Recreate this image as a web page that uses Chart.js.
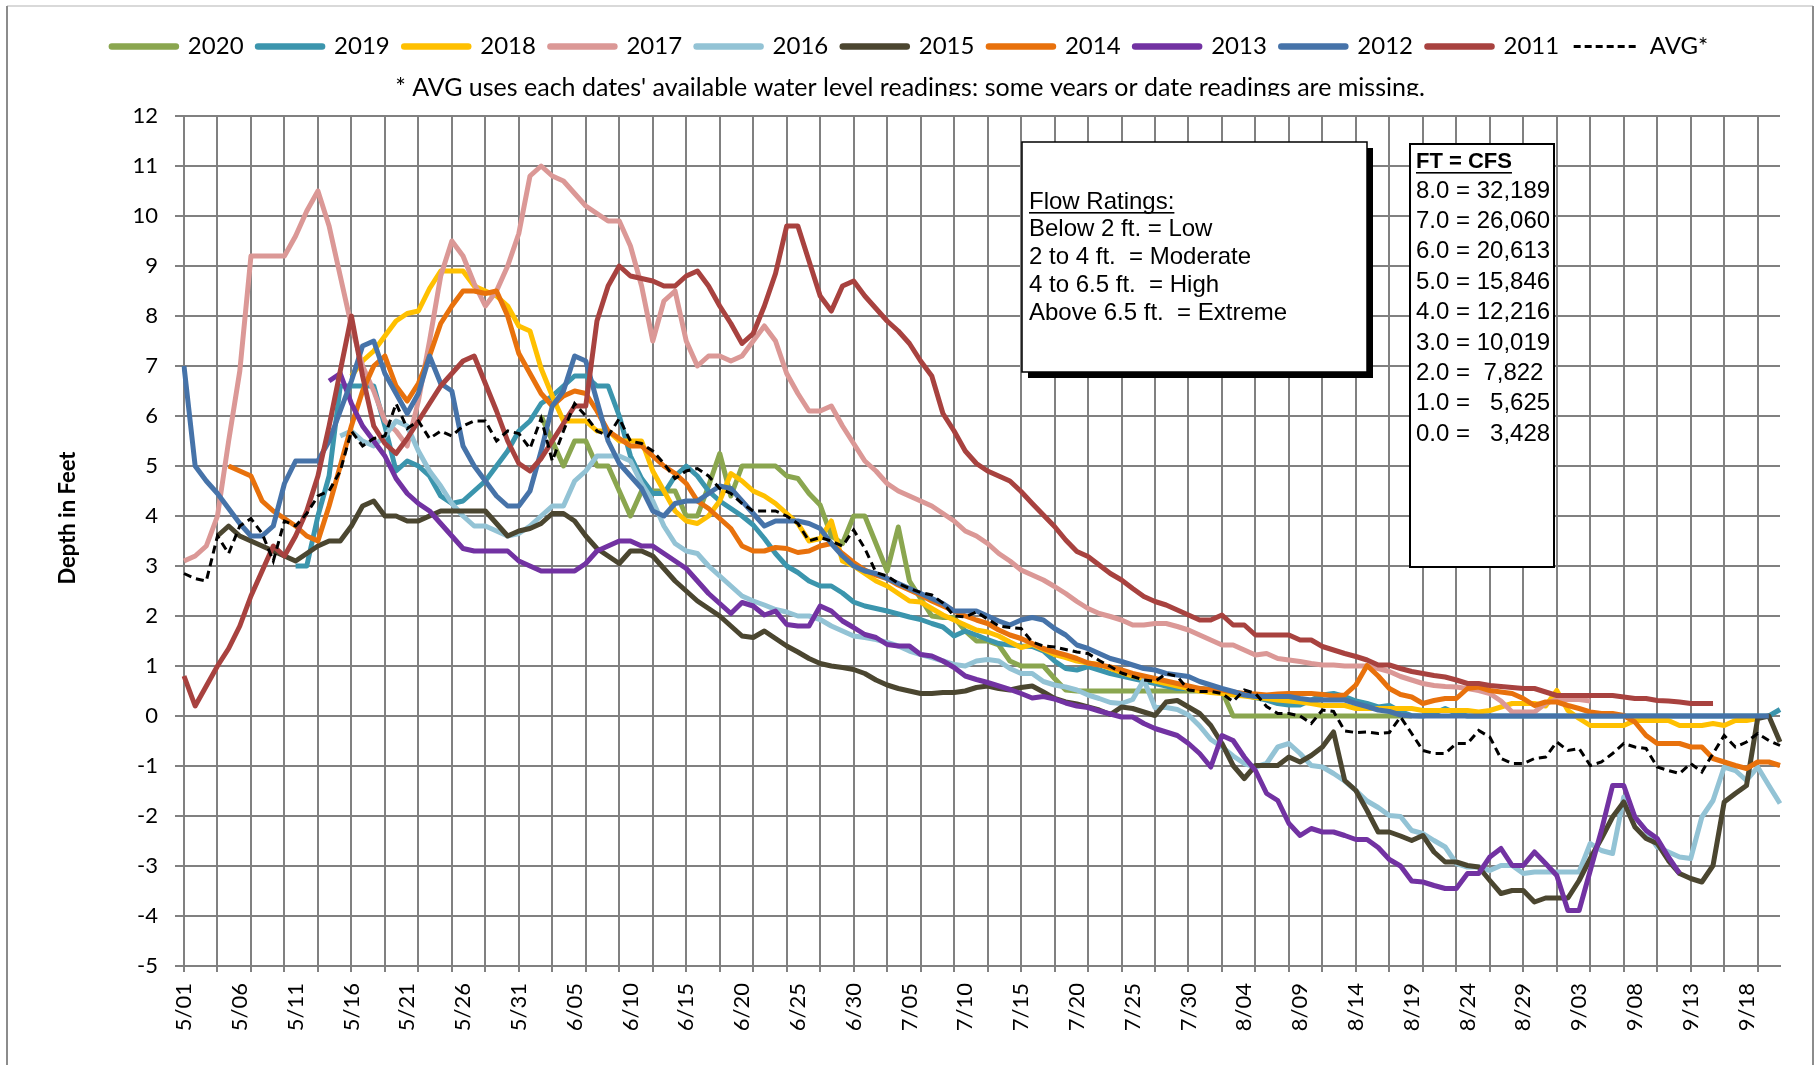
<!DOCTYPE html>
<html>
<head>
<meta charset="utf-8">
<title>Depth in Feet, May - September</title>
<script src="https://cdn.jsdelivr.net/npm/chart.js@4.4.1/dist/chart.umd.min.js"></script>
<style>
  html, body { margin: 0; padding: 0; background: #fff; }
  canvas { display: block; }
</style>
</head>
<body>
<canvas id="depthChart" width="1818" height="1065"></canvas>
<script>
// one reading per day, 5/01 .. 9/21
var days = [].concat(
  '5/01 5/02 5/03 5/04 5/05 5/06 5/07 5/08 5/09 5/10 5/11 5/12 5/13 5/14 5/15 5/16 5/17 5/18 5/19 5/20 5/21 5/22 5/23 5/24 5/25 5/26 5/27 5/28 5/29 5/30 5/31'.split(' '),
  '6/01 6/02 6/03 6/04 6/05 6/06 6/07 6/08 6/09 6/10 6/11 6/12 6/13 6/14 6/15 6/16 6/17 6/18 6/19 6/20 6/21 6/22 6/23 6/24 6/25 6/26 6/27 6/28 6/29 6/30'.split(' '),
  '7/01 7/02 7/03 7/04 7/05 7/06 7/07 7/08 7/09 7/10 7/11 7/12 7/13 7/14 7/15 7/16 7/17 7/18 7/19 7/20 7/21 7/22 7/23 7/24 7/25 7/26 7/27 7/28 7/29 7/30 7/31'.split(' '),
  '8/01 8/02 8/03 8/04 8/05 8/06 8/07 8/08 8/09 8/10 8/11 8/12 8/13 8/14 8/15 8/16 8/17 8/18 8/19 8/20 8/21 8/22 8/23 8/24 8/25 8/26 8/27 8/28 8/29 8/30 8/31'.split(' '),
  '9/01 9/02 9/03 9/04 9/05 9/06 9/07 9/08 9/09 9/10 9/11 9/12 9/13 9/14 9/15 9/16 9/17 9/18 9/19 9/20 9/21'.split(' ')
);

var yTicks = [-5, 12];

// each year starts at the day index given in its start value
var start2020 = 32;
var y2020 = [
  6.0, 5.5, 5.0, 5.5, 5.5, 5.0, 5.0, 4.5,
  4.0, 4.5, 4.5, 4.5, 4.5, 4.0, 4.0, 4.6, 5.25, 4.4,
  5.0, 5.0, 5.0, 5.0, 4.8, 4.75, 4.45, 4.22, 3.6, 3.45,
  4.0, 4.0, 3.45, 2.9, 3.78, 2.7, 2.35, 2.0, 1.97, 1.97,
  1.7, 1.5, 1.5, 1.42, 1.1, 1.0, 1.0, 1.0, 0.75, 0.52,
  0.5, 0.5, 0.5, 0.5, 0.5, 0.5, 0.5, 0.5, 0.5, 0.5,
  0.5, 0.5, 0.5, 0.5, 0, 0, 0, 0, 0, 0,
  0, 0, 0, 0, 0, 0, 0, 0, 0, 0, 0
];

var start2019 = 10;
var y2019 = [
  3.0, 3.0, 4.0, 4.8, 6.6, 6.6, 6.6, 6.6, 5.8, 4.9,
  5.1, 5.0, 4.8, 4.4, 4.25, 4.3, 4.5, 4.7, 5.0, 5.3,
  5.7, 5.9, 6.25, 6.4, 6.6, 6.8, 6.8, 6.6, 6.6, 6.0,
  5.2, 4.75, 4.45, 4.45, 4.8, 5.0, 4.8, 4.5, 4.3, 4.15,
  4.0, 3.82, 3.55, 3.25, 3.0, 2.87, 2.7, 2.6, 2.6, 2.46,
  2.28, 2.2, 2.15, 2.1, 2.04, 1.98, 1.93, 1.85, 1.78, 1.6,
  1.7, 1.62, 1.53, 1.45, 1.42, 1.4, 1.39, 1.3, 1.1, 0.95,
  0.92, 0.99, 0.92, 0.85, 0.8, 0.75, 0.7, 0.65, 0.6, 0.55,
  0.55, 0.55, 0.53, 0.52, 0.47, 0.42, 0.37, 0.32, 0.25, 0.22,
  0.22, 0.32, 0.42, 0.45, 0.39, 0.3, 0.25, 0.18, 0.21, 0.09,
  0.01, 0, 0.05, 0.15, 0.05, 0, 0, 0, 0, 0,
  0, 0, 0, 0, 0, 0, 0, 0, 0, 0,
  0, 0, 0, 0, 0, 0, 0, 0, 0, 0,
  0, 0, 0, 0.13
];

var start2018 = 15;
var y2018 = [
  6.8, 7.1, 7.3, 7.6, 7.9,
  8.05, 8.1, 8.55, 8.9, 8.9, 8.9, 8.6, 8.5, 8.4, 8.2,
  7.8, 7.7, 6.95, 6.4, 5.9, 5.9, 5.9, 5.7, 5.7, 5.5,
  5.5, 5.5, 4.9, 4.5, 4.1, 3.9, 3.85, 4.0, 4.3, 4.85,
  4.7, 4.5, 4.4, 4.25, 4.05, 3.85, 3.5, 3.55, 3.9, 3.1,
  3.0, 2.85, 2.7, 2.6, 2.45, 2.3, 2.28, 2.15, 2.02, 1.92,
  1.82, 1.72, 1.68, 1.6, 1.48, 1.37, 1.43, 1.33, 1.23, 1.17,
  1.1, 1.06, 1.03, 0.95, 0.87, 0.8, 0.75, 0.7, 0.65, 0.6,
  0.55, 0.5, 0.47, 0.45, 0.42, 0.4, 0.37, 0.35, 0.32, 0.3,
  0.28, 0.25, 0.21, 0.21, 0.21, 0.15, 0.15, 0.15, 0.15, 0.15,
  0.15, 0.11, 0.11, 0.11, 0.11, 0.11, 0.08, 0.11, 0.18, 0.25,
  0.25, 0.25, 0.2, 0.51, 0.11, -0.05, -0.19, -0.19, -0.19, -0.19,
  -0.09, -0.09, -0.09, -0.09, -0.19, -0.19, -0.19, -0.15, -0.19, -0.09,
  -0.09, -0.05
];

var start2017 = 0;
var y2017 = [
  3.1, 3.2, 3.4, 4.0, 5.5, 6.9, 9.2, 9.2, 9.2, 9.2,
  9.6, 10.1, 10.5, 9.8, 8.8, 7.8, 7.0, 6.5, 5.9, 5.7,
  5.4, 6.3, 7.5, 8.8, 9.5, 9.2, 8.65, 8.2, 8.5, 9.0,
  9.65, 10.8, 11.0, 10.8, 10.7, 10.45, 10.2, 10.05, 9.9, 9.9,
  9.4, 8.6, 7.5, 8.3, 8.5, 7.5, 7.0, 7.2, 7.2, 7.1,
  7.2, 7.5, 7.8, 7.5, 6.85, 6.45, 6.1, 6.1, 6.2, 5.8,
  5.45, 5.1, 4.9, 4.65, 4.5, 4.4, 4.3, 4.2, 4.05, 3.9,
  3.7, 3.6, 3.45, 3.25, 3.1, 2.92, 2.82, 2.72, 2.59, 2.45,
  2.29, 2.15, 2.05, 1.99, 1.92, 1.82, 1.82, 1.85, 1.85, 1.79,
  1.72, 1.62, 1.52, 1.42, 1.42, 1.32, 1.22, 1.25, 1.15, 1.12,
  1.09, 1.05, 1.02, 1.02, 1.0, 1.0, 1.0, 0.95, 0.89, 0.79,
  0.72, 0.65, 0.61, 0.59, 0.58, 0.55, 0.51, 0.45, 0.3, 0.08,
  0.08, 0.08, 0.25, 0.33, 0.33, 0.33, 0.3
];

var start2016 = 14;
var y2016 = [
  5.6, 5.7, 5.5, 5.4, 5.6, 5.9,
  5.8, 5.3, 4.9, 4.6, 4.25, 4.0, 3.8, 3.8, 3.7, 3.6,
  3.65, 3.8, 4.0, 4.2, 4.2, 4.7, 4.9, 5.2, 5.2, 5.2,
  5.1, 4.65, 4.3, 3.8, 3.45, 3.3, 3.25, 3.0, 2.8, 2.6,
  2.4, 2.3, 2.22, 2.13, 2.08, 2.0, 2.0, 1.93, 1.8, 1.7,
  1.6, 1.57, 1.53, 1.47, 1.4, 1.3, 1.23, 1.17, 1.1, 1.03,
  1.0, 1.1, 1.13, 1.1, 0.95, 0.85, 0.85, 0.69, 0.62, 0.58,
  0.52, 0.42, 0.35, 0.27, 0.25, 0.33, 0.72, 0.17, 0.17, 0.13,
  0.02, -0.2, -0.47, -0.62, -0.8, -0.95, -1.02, -0.95, -0.62, -0.55,
  -0.75, -0.99, -1.02, -1.15, -1.3, -1.49, -1.7, -1.83, -1.99, -2.01,
  -2.29, -2.35, -2.49, -2.62, -2.95, -3.02, -3.02, -3.09, -2.99, -2.99,
  -3.15, -3.12, -3.12, -3.12, -3.12, -3.12, -2.55, -2.69, -2.75, -1.62,
  -2.02, -2.29, -2.62, -2.72, -2.82, -2.85, -2.02, -1.69, -1.02, -1.09,
  -1.29, -1.02, -1.39, -1.75
];

var start2015 = 3;
var y2015 = [
  3.6, 3.8, 3.6, 3.5, 3.4, 3.3, 3.2,
  3.1, 3.25, 3.4, 3.5, 3.5, 3.8, 4.2, 4.3, 4.0, 4.0,
  3.9, 3.9, 4.0, 4.1, 4.1, 4.1, 4.1, 4.1, 3.85, 3.6,
  3.7, 3.75, 3.85, 4.05, 4.05, 3.9, 3.6, 3.35, 3.2, 3.05,
  3.3, 3.3, 3.2, 2.95, 2.7, 2.5, 2.3, 2.15, 2.0, 1.8,
  1.6, 1.57, 1.7, 1.55, 1.4, 1.28, 1.15, 1.05, 1.0, 0.97,
  0.93, 0.85, 0.72, 0.62, 0.55, 0.5, 0.45, 0.45, 0.47, 0.47,
  0.5, 0.57, 0.6, 0.55, 0.52, 0.57, 0.6, 0.48, 0.35, 0.28,
  0.24, 0.18, 0.12, 0.03, 0.18, 0.15, 0.08, 0.01, 0.28, 0.31,
  0.18, 0.05, -0.19, -0.55, -0.99, -1.25, -0.99, -0.99, -0.99, -0.82,
  -0.92, -0.79, -0.62, -0.32, -1.29, -1.49, -1.89, -2.32, -2.32, -2.4,
  -2.49, -2.39, -2.72, -2.92, -2.92, -2.99, -3.02, -3.29, -3.55, -3.49,
  -3.49, -3.72, -3.64, -3.64, -3.64, -3.29, -2.85, -2.45, -2.02, -1.72,
  -2.22, -2.45, -2.55, -2.89, -3.15, -3.25, -3.32, -2.99, -1.72, -1.55,
  -1.39, -0.05, 0, -0.52
];

var start2014 = 4;
var y2014 = [
  5.0, 4.9, 4.8, 4.3, 4.1, 3.95,
  3.8, 3.6, 3.5, 4.2, 5.0, 5.8, 6.5, 7.0, 7.2, 6.6,
  6.3, 6.65, 7.2, 7.85, 8.2, 8.5, 8.5, 8.45, 8.5, 8.0,
  7.25, 6.85, 6.45, 6.2, 6.4, 6.5, 6.45, 6.1, 5.7, 5.55,
  5.4, 5.4, 5.2, 5.0, 4.85, 4.65, 4.3, 4.15, 3.95, 3.75,
  3.4, 3.3, 3.3, 3.37, 3.35, 3.27, 3.3, 3.4, 3.45, 3.25,
  3.07, 2.92, 2.82, 2.75, 2.62, 2.52, 2.42, 2.3, 2.2, 2.1,
  2.0, 1.92, 1.85, 1.72, 1.62, 1.55, 1.45, 1.35, 1.28, 1.22,
  1.15, 1.06, 1.02, 0.98, 0.92, 0.85, 0.8, 0.75, 0.7, 0.65,
  0.6, 0.55, 0.53, 0.52, 0.48, 0.45, 0.44, 0.42, 0.44, 0.45,
  0.45, 0.45, 0.43, 0.4, 0.42, 0.62, 1.01, 0.8, 0.55, 0.43,
  0.38, 0.25, 0.31, 0.35, 0.35, 0.55, 0.58, 0.51, 0.48, 0.45,
  0.35, 0.21, 0.28, 0.28, 0.21, 0.15, 0.08, 0.05, 0.05, 0.01,
  -0.12, -0.39, -0.55, -0.55, -0.55, -0.62, -0.62, -0.85, -0.92, -0.99,
  -1.05, -0.92, -0.92, -0.99
];

var start2013 = 13;
var y2013 = [
  6.7, 6.85, 6.25, 5.8, 5.5, 5.2, 4.75,
  4.45, 4.25, 4.1, 3.85, 3.6, 3.35, 3.3, 3.3, 3.3, 3.3,
  3.1, 3.0, 2.9, 2.9, 2.9, 2.9, 3.05, 3.3, 3.4, 3.5,
  3.5, 3.4, 3.4, 3.25, 3.1, 2.95, 2.7, 2.45, 2.25, 2.05,
  2.27, 2.2, 2.02, 2.1, 1.83, 1.8, 1.8, 2.2, 2.1, 1.9,
  1.77, 1.63, 1.57, 1.43, 1.4, 1.4, 1.23, 1.2, 1.1, 0.97,
  0.8, 0.73, 0.67, 0.6, 0.53, 0.45, 0.36, 0.39, 0.34, 0.26,
  0.2, 0.17, 0.1, 0.04, -0.02, -0.02, -0.15, -0.25, -0.32, -0.39,
  -0.55, -0.75, -1.02, -0.39, -0.49, -0.82, -1.09, -1.55, -1.69, -2.15,
  -2.39, -2.25, -2.32, -2.32, -2.39, -2.47, -2.47, -2.63, -2.87, -3.0,
  -3.3, -3.32, -3.39, -3.45, -3.45, -3.15, -3.15, -2.82, -2.65, -2.99,
  -2.99, -2.72, -2.95, -3.19, -3.89, -3.89, -3.09, -2.29, -1.39, -1.39,
  -2.02, -2.29, -2.45, -2.82, -3.15
];

var start2012 = 0;
var y2012 = [
  7.0, 5.0, 4.7, 4.45, 4.15, 3.85, 3.6, 3.6, 3.8, 4.65,
  5.1, 5.1, 5.1, 5.5, 6.1, 6.7, 7.4, 7.5, 6.85, 6.45,
  6.05, 6.45, 7.2, 6.65, 6.5, 5.4, 5.0, 4.7, 4.4, 4.2,
  4.2, 4.5, 5.3, 6.2, 6.5, 7.2, 7.1, 6.3, 5.5, 5.05,
  4.8, 4.55, 4.1, 4.0, 4.25, 4.3, 4.3, 4.45, 4.6, 4.55,
  4.3, 4.05, 3.8, 3.9, 3.9, 3.9, 3.85, 3.75, 3.45, 3.2,
  3.0, 2.9, 2.85, 2.75, 2.65, 2.55, 2.45, 2.35, 2.25, 2.1,
  2.1, 2.1, 2.0, 1.9, 1.82, 1.92, 1.97, 1.92, 1.75, 1.62,
  1.42, 1.35, 1.25, 1.15, 1.09, 1.02, 0.95, 0.92, 0.85, 0.82,
  0.79, 0.69, 0.62, 0.55, 0.49, 0.42, 0.39, 0.39, 0.39, 0.39,
  0.35, 0.32, 0.32, 0.32, 0.32, 0.25, 0.19, 0.12, 0.09, 0.02,
  0, 0, 0, 0, 0, 0, 0, 0, 0, 0,
  0, 0, 0, 0, 0, 0, 0, 0, 0, 0,
  0, 0, 0, 0, 0, 0, 0, 0, 0, 0,
  0, 0, 0
];

var start2011 = 0;
var y2011 = [
  0.8, 0.2, 0.6, 1.0, 1.35, 1.8, 2.4, 2.9, 3.4, 3.2,
  3.6, 4.1, 4.8, 5.8, 6.9, 8.0, 6.8, 5.8, 5.45, 5.25,
  5.55, 5.9, 6.25, 6.6, 6.85, 7.1, 7.2, 6.65, 6.1, 5.5,
  5.05, 4.9, 5.15, 5.5, 5.85, 6.2, 6.2, 7.9, 8.6, 9.0,
  8.8, 8.75, 8.7, 8.6, 8.6, 8.8, 8.9, 8.6, 8.2, 7.85,
  7.45, 7.65, 8.2, 8.85, 9.8, 9.8, 9.1, 8.4, 8.1, 8.6,
  8.7, 8.4, 8.15, 7.9, 7.7, 7.45, 7.1, 6.8, 6.05, 5.7,
  5.3, 5.05, 4.9, 4.8, 4.7, 4.49, 4.25, 4.02, 3.79, 3.52,
  3.29, 3.19, 3.02, 2.85, 2.72, 2.55, 2.39, 2.29, 2.22, 2.12,
  2.02, 1.92, 1.92, 2.02, 1.82, 1.82, 1.62, 1.62, 1.62, 1.62,
  1.52, 1.52, 1.39, 1.32, 1.25, 1.19, 1.12, 1.02, 1.02, 0.95,
  0.89, 0.85, 0.81, 0.78, 0.72, 0.65, 0.65, 0.61, 0.59, 0.57,
  0.55, 0.55, 0.48, 0.41, 0.41, 0.41, 0.41, 0.41, 0.41, 0.38,
  0.35, 0.35, 0.31, 0.3, 0.28, 0.25, 0.25, 0.25
];

var startAvg = 0;
var yAvg = [
  2.85, 2.75, 2.7, 3.6, 3.25, 3.8, 3.95, 3.65, 3.1, 3.9,
  3.8, 4.05, 4.4, 4.5, 4.9, 5.7, 5.4, 5.55, 5.6, 6.25,
  5.75, 5.9, 5.55, 5.7, 5.6, 5.8, 5.9, 5.9, 5.5, 5.7,
  5.65, 5.35, 5.95, 5.1, 5.7, 6.25, 6.0, 5.7, 5.6, 5.95,
  5.5, 5.45, 5.3, 5.05, 4.75, 4.9, 4.95, 4.8, 4.55, 4.45,
  4.25, 4.1, 4.1, 4.1, 4.0, 3.85, 3.5, 3.57, 3.5, 3.4,
  3.72, 3.35, 2.87, 2.8, 2.65, 2.55, 2.47, 2.42, 2.26, 2.0,
  1.98, 2.08, 1.94, 1.8, 1.77, 1.75, 1.48, 1.4, 1.38, 1.33,
  1.28, 1.25, 1.11, 0.99, 0.86, 0.79, 0.72, 0.69, 0.85, 0.79,
  0.52, 0.49, 0.49, 0.45, 0.29, 0.52, 0.45, 0.19, 0.05, 0.05,
  0.0, -0.15, 0.12, 0.09, -0.3, -0.33, -0.32, -0.35, -0.33, -0.02,
  -0.35, -0.69, -0.75, -0.75, -0.55, -0.55, -0.29, -0.42, -0.85, -0.95,
  -0.95, -0.85, -0.82, -0.52, -0.69, -0.65, -0.99, -0.92, -0.75, -0.55,
  -0.62, -0.65, -1.02, -1.09, -1.15, -0.95, -1.12, -0.75, -0.39, -0.62,
  -0.52, -0.35, -0.49, -0.59
];

var note = "* AVG uses each dates' available water level readings; some years or date readings are missing.";
var yTitle = 'Depth in Feet';
var flowLines = ['Flow Ratings:', 'Below 2 ft. = Low', '2 to 4 ft.  = Moderate', '4 to 6.5 ft.  = High', 'Above 6.5 ft.  = Extreme'];
var cfsLines = ['FT = CFS', '8.0 = 32,189', '7.0 = 26,060', '6.0 = 20,613', '5.0 = 15,846', '4.0 = 12,216', '3.0 = 10,019', '2.0 =  7,822', '1.0 =   5,625', '0.0 =   3,428'];

function pad(start, vals) {
  return new Array(start).fill(null).concat(vals);
}

var gridGray = '#808080';
var tickFont = { family: 'Lato', size: 22 };

function yearSet(label, start, vals, color, order) {
  return {
    label: label,
    data: pad(start, vals),
    borderColor: color,
    backgroundColor: color,
    borderWidth: 5,
    borderJoinStyle: 'round',
    pointRadius: 0,
    tension: 0,
    order: order
  };
}

var datasets = [
  yearSet('2020', start2020, y2020, '#8AA64F', 10),
  yearSet('2019', start2019, y2019, '#3B95AD', 9),
  yearSet('2018', start2018, y2018, '#FFC000', 8),
  yearSet('2017', start2017, y2017, '#DB9896', 7),
  yearSet('2016', start2016, y2016, '#93C3D5', 6),
  yearSet('2015', start2015, y2015, '#4B4630', 5),
  yearSet('2014', start2014, y2014, '#E8710C', 4),
  yearSet('2013', start2013, y2013, '#7232A2', 3),
  yearSet('2012', start2012, y2012, '#4673A9', 2),
  yearSet('2011', start2011, y2011, '#A8423F', 1),
  {
    label: 'AVG*',
    data: pad(startAvg, yAvg),
    borderColor: '#000',
    backgroundColor: '#000',
    borderWidth: 3,
    borderDash: [8, 5],
    pointRadius: 0,
    tension: 0,
    order: 0
  }
];

// the note under the legend is cut off at the bottom in the original
var noteClip = {
  id: 'noteClip',
  beforeDraw: function (chart) {
    var ctx = chart.ctx;
    ctx.save();
    ctx.beginPath();
    ctx.rect(0, 0, chart.width, chart.height);
    ctx.rect(200, 96, 1400, 18);
    ctx.clip('evenodd');
  },
  beforeDatasetsDraw: function (chart) {
    chart.ctx.restore();
  }
};

function underline(ctx, text, x, y) {
  var w = ctx.measureText(text).width;
  ctx.fillRect(x, y, w, 1.6);
}

var boxes = {
  id: 'boxes',
  afterDraw: function (chart) {
    var ctx = chart.ctx;
    ctx.save();

    // outer frame
    ctx.lineWidth = 2;
    ctx.strokeStyle = '#d9d9d9';
    ctx.beginPath(); ctx.moveTo(7, 6); ctx.lineTo(1813, 6); ctx.stroke();
    ctx.strokeStyle = '#8c8c8c';
    ctx.beginPath(); ctx.moveTo(7, 6); ctx.lineTo(7, 1065); ctx.stroke();
    ctx.beginPath(); ctx.moveTo(1813, 6); ctx.lineTo(1813, 1065); ctx.stroke();

    // y axis title
    ctx.save();
    ctx.translate(68, 518);
    ctx.rotate(-Math.PI / 2);
    ctx.fillStyle = '#000';
    ctx.textAlign = 'center';
    ctx.textBaseline = 'middle';
    ctx.font = 'bold 22px Lato';
    ctx.fillText(yTitle, 0, 0);
    ctx.restore();

    // flow ratings
    ctx.fillStyle = '#000';
    ctx.fillRect(1028, 148, 345, 230);
    ctx.fillStyle = '#fff';
    ctx.fillRect(1022, 142, 345, 230);
    ctx.strokeStyle = '#000';
    ctx.lineWidth = 1.5;
    ctx.strokeRect(1022, 142, 345, 230);
    ctx.fillStyle = '#000';
    ctx.textAlign = 'left';
    ctx.textBaseline = 'middle';
    ctx.font = '24px "Liberation Sans", Arial, sans-serif';
    flowLines.forEach(function (t, i) {
      ctx.fillText(t, 1029, 202 + i * 27.8);
    });
    underline(ctx, flowLines[0], 1029, 212);

    // feet to cfs table
    ctx.fillStyle = '#fff';
    ctx.fillRect(1410, 144, 144, 423);
    ctx.lineWidth = 2;
    ctx.strokeRect(1410, 144, 144, 423);
    ctx.fillStyle = '#000';
    ctx.font = 'bold 22px "Liberation Sans", Arial, sans-serif';
    ctx.fillText(cfsLines[0], 1416, 162);
    underline(ctx, cfsLines[0], 1416, 172);
    ctx.font = '24px "Liberation Sans", Arial, sans-serif';
    for (var i = 1; i < cfsLines.length; i++) {
      ctx.fillText(cfsLines[i], 1416, 191 + (i - 1) * 30.4);
    }
    ctx.restore();
  }
};

Chart.defaults.font.family = 'Lato';
Chart.defaults.color = '#000';

var depthChart = new Chart(document.getElementById('depthChart').getContext('2d'), {
  type: 'line',
  data: { labels: days, datasets: datasets },
  options: {
    responsive: false,
    animation: false,
    devicePixelRatio: 1,
    layout: { padding: { left: 40, right: 38, top: 20, bottom: 0 } },
    plugins: {
      legend: {
        position: 'top',
        align: 'center',
        labels: {
          color: '#000',
          font: { family: 'Lato', size: 24 },
          usePointStyle: true,
          pointStyle: 'line',
          pointStyleWidth: 64,
          padding: 14.5,
          sort: function (a, b) { return a.datasetIndex - b.datasetIndex; },
          generateLabels: function (chart) {
            var items = Chart.defaults.plugins.legend.labels.generateLabels(chart);
            items.forEach(function (it) {
              var isAvg = it.datasetIndex === datasets.length - 1;
              it.pointStyle = 'line';
              it.lineWidth = isAvg ? 3 : 6.5;
              it.lineCap = isAvg ? 'butt' : 'round';
              it.lineDash = isAvg ? [7, 4] : [];
            });
            return items;
          }
        }
      },
      subtitle: {
        display: true,
        text: note,
        weight: 500,
        color: '#000',
        font: { family: 'Lato', size: 25 },
        padding: { top: 4, bottom: 13.5 }
      },
      tooltip: { enabled: false }
    },
    scales: {
      x: {
        type: 'category',
        offset: false,
        grid: {
          color: function (c) { return c.index % 3 === 0 ? gridGray : 'rgba(0,0,0,0)'; },
          lineWidth: 2,
          tickLength: 6
        },
        border: { color: gridGray, width: 2 },
        ticks: {
          autoSkip: false,
          maxRotation: 90,
          minRotation: 90,
          padding: 11,
          color: '#000',
          font: tickFont,
          callback: function (v, i) { return i % 5 === 0 ? days[i] : ''; }
        },
        afterFit: function (s) { s.height = 99; }
      },
      y: {
        min: yTicks[0],
        max: yTicks[1],
        ticks: { stepSize: 1, padding: 17, color: '#000', font: tickFont },
        grid: { color: gridGray, lineWidth: 2, tickLength: 9 },
        border: { color: gridGray, width: 2 },
        afterFit: function (s) { s.width = 144; }
      }
    }
  },
  plugins: [noteClip, boxes]
});
</script>
</body>
</html>
